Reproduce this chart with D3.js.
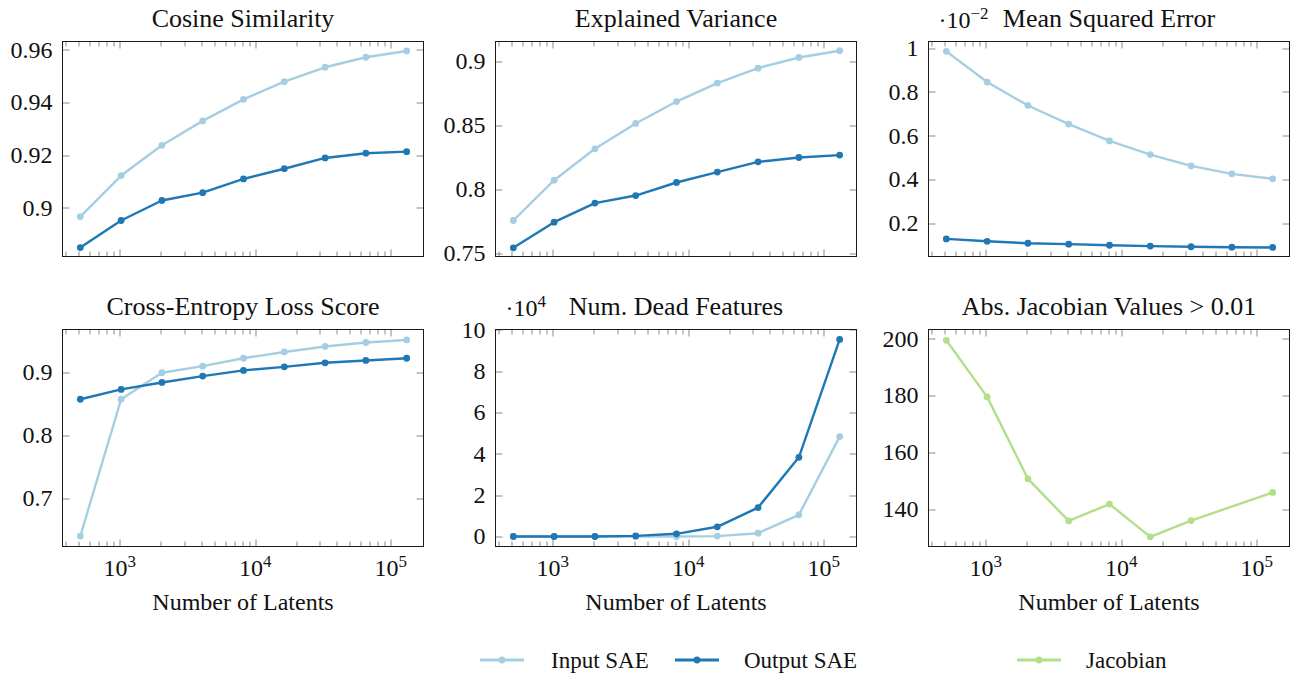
<!DOCTYPE html>
<html>
<head>
<meta charset="utf-8">
<script src="https://cdn.jsdelivr.net/npm/d3@7"></script>
<style>
  body { margin: 0; background: #fff; }
  svg { display: block; }
  text { font-family: "Liberation Serif", "Times New Roman", serif; fill: #111; }
</style>
</head>
<body>
<svg id="chart" width="1291" height="674"></svg>
<script>
// Dictionary sizes (number of latents) on the shared log x axis
const latents = [512, 1024, 2048, 4096, 8192, 16384, 32768, 65536, 131072];
const jacobianLatents = [512, 1024, 2048, 4096, 8192, 16384, 32768, 131072];

// Series values
const cosineInput    = [0.8966, 0.9122, 0.9237, 0.9330, 0.9412, 0.9479, 0.9534, 0.9572, 0.9596];
const cosineOutput   = [0.8848, 0.8951, 0.9027, 0.9057, 0.9109, 0.9148, 0.9189, 0.9207, 0.9213];
const varianceInput  = [0.7758, 0.8073, 0.8318, 0.8516, 0.8687, 0.8831, 0.8948, 0.9031, 0.9084];
const varianceOutput = [0.7545, 0.7745, 0.7894, 0.7953, 0.8055, 0.8136, 0.8216, 0.8250, 0.8269];
const mseInput       = [0.00985, 0.00845, 0.00738, 0.00653, 0.00576, 0.00514, 0.00462, 0.00426, 0.00403];
const mseOutput      = [0.00129, 0.00118, 0.00109, 0.00105, 0.00100, 0.00096, 0.00093, 0.00091, 0.00090];
const ceInput        = [0.640, 0.857, 0.899, 0.9095, 0.922, 0.932, 0.9407, 0.947, 0.951];
const ceOutput       = [0.857, 0.8726, 0.8836, 0.8937, 0.9027, 0.9084, 0.9148, 0.9185, 0.922];
const deadInput      = [0, 0, 0, 0, 0, 200, 1600, 10500, 48300];
const deadOutput     = [0, 0, 0, 300, 1300, 4700, 14000, 38300, 95300];
const jacobianValues = [199.4, 179.5, 150.7, 135.9, 141.8, 130.3, 136.0, 145.9];

// Tick values and their labels
const xTickValues = [1e3, 1e4, 1e5];
const xTickExponents = ["3", "4", "5"];
const cosineTicks = [0.9, 0.92, 0.94, 0.96];
const cosineTickLabels = ["0.9", "0.92", "0.94", "0.96"];
const varianceTicks = [0.75, 0.8, 0.85, 0.9];
const varianceTickLabels = ["0.75", "0.8", "0.85", "0.9"];
const mseTicks = [0.002, 0.004, 0.006, 0.008, 0.01];
const mseTickLabels = ["0.2", "0.4", "0.6", "0.8", "1"];
const ceTicks = [0.7, 0.8, 0.9];
const ceTickLabels = ["0.7", "0.8", "0.9"];
const deadTicks = [0, 20000, 40000, 60000, 80000, 100000];
const deadTickLabels = ["0", "2", "4", "6", "8", "10"];
const jacobianTicks = [140, 160, 180, 200];
const jacobianTickLabels = ["140", "160", "180", "200"];

const colors = { input: "#a6cee3", output: "#1f78b4", jacobian: "#b2df8a" };

const panels = [
  { title: "Cosine Similarity", col: 0, row: 0, yDomain: [0.8814, 0.9632],
    ticks: cosineTicks, labels: cosineTickLabels,
    series: [{ x: latents, y: cosineInput, color: colors.input }, { x: latents, y: cosineOutput, color: colors.output }] },
  { title: "Explained Variance", col: 1, row: 0, yDomain: [0.7477, 0.9156],
    ticks: varianceTicks, labels: varianceTickLabels,
    series: [{ x: latents, y: varianceInput, color: colors.input }, { x: latents, y: varianceOutput, color: colors.output }] },
  { title: "Mean Squared Error", col: 2, row: 0, yDomain: [0.000486, 0.0103], exponent: "\u22122",
    ticks: mseTicks, labels: mseTickLabels,
    series: [{ x: latents, y: mseInput, color: colors.input }, { x: latents, y: mseOutput, color: colors.output }] },
  { title: "Cross-Entropy Loss Score", col: 0, row: 1, yDomain: [0.6234, 0.9676],
    ticks: ceTicks, labels: ceTickLabels,
    series: [{ x: latents, y: ceInput, color: colors.input }, { x: latents, y: ceOutput, color: colors.output }] },
  { title: "Num. Dead Features", col: 1, row: 1, yDomain: [-4830, 100100], exponent: "4",
    ticks: deadTicks, labels: deadTickLabels,
    series: [{ x: latents, y: deadInput, color: colors.input }, { x: latents, y: deadOutput, color: colors.output }] },
  { title: "Abs. Jacobian Values > 0.01", col: 2, row: 1, yDomain: [126.9, 203.2],
    ticks: jacobianTicks, labels: jacobianTickLabels,
    series: [{ x: jacobianLatents, y: jacobianValues, color: colors.jacobian }] }
];

const colLeft = [62.5, 495.5, 928.5];
const panelWidth = 361;
const rowsGeom = [{ top: 41.5, height: 215 }, { top: 329.5, height: 217 }];

const svg = d3.select("#chart");

const x = d3.scaleLog().domain([Math.pow(10, 2.5777), Math.pow(10, 5.2417)]).range([0, panelWidth]);
const xMinor = [];
for (let k = 2; k <= 5; k++) {
  for (let m = 2; m <= 9; m++) {
    const v = m * Math.pow(10, k);
    if (v > x.domain()[0] && v < x.domain()[1]) xMinor.push(v);
  }
}

panels.forEach(p => {
  const left = colLeft[p.col];
  const { top, height } = rowsGeom[p.row];
  const y = d3.scaleLinear().domain(p.yDomain).range([height, 0]);
  const g = svg.append("g").attr("transform", `translate(${left},${top})`);

  // inward tick marks on all four sides
  const tickG = g.append("g").attr("stroke", "#8a8a8a").attr("stroke-width", 1);
  xMinor.forEach(v => {
    const px = Math.round(x(v)) + 0.5;
    tickG.append("line").attr("x1", px).attr("x2", px).attr("y1", height).attr("y2", height - 5);
    tickG.append("line").attr("x1", px).attr("x2", px).attr("y1", 0).attr("y2", 5);
  });
  xTickValues.forEach(v => {
    const px = Math.round(x(v)) + 0.5;
    tickG.append("line").attr("x1", px).attr("x2", px).attr("y1", height).attr("y2", height - 7);
    tickG.append("line").attr("x1", px).attr("x2", px).attr("y1", 0).attr("y2", 7);
  });
  p.ticks.forEach(v => {
    const py = Math.round(y(v)) + 0.5;
    tickG.append("line").attr("x1", 0).attr("x2", 7).attr("y1", py).attr("y2", py);
    tickG.append("line").attr("x1", panelWidth).attr("x2", panelWidth - 7).attr("y1", py).attr("y2", py);
  });

  // frame
  g.append("rect").attr("width", panelWidth).attr("height", height)
    .attr("fill", "none").attr("stroke", "#1a1a1a").attr("stroke-width", 1);

  // y tick labels
  p.ticks.forEach((v, i) => {
    g.append("text").attr("x", -10).attr("y", y(v)).attr("dy", "0.33em")
      .attr("text-anchor", "end").attr("font-size", 24).text(p.labels[i]);
  });

  // x tick labels only on the bottom row
  if (p.row === 1) {
    xTickValues.forEach((v, i) => {
      const t = g.append("text").attr("x", x(v)).attr("y", height + 29)
        .attr("text-anchor", "middle").attr("font-size", 24);
      t.append("tspan").text("10");
      t.append("tspan").attr("dy", -9).attr("font-size", 17).text(xTickExponents[i]);
    });
    g.append("text").attr("x", panelWidth / 2).attr("y", height + 63.5)
      .attr("text-anchor", "middle").attr("font-size", 24).text("Number of Latents");
  }

  // title
  g.append("text").attr("x", panelWidth / 2).attr("y", -15)
    .attr("text-anchor", "middle").attr("font-size", 26).text(p.title);

  // scale multiplier
  if (p.exponent) {
    const t = g.append("text").attr("x", 10).attr("y", -14).attr("font-size", 24);
    t.append("tspan").text("\u00b710");
    t.append("tspan").attr("dy", -9).attr("font-size", 17).text(p.exponent);
  }

  // series
  const line = d3.line().x(d => x(d[0])).y(d => y(d[1]));
  p.series.forEach(s => {
    const pts = s.x.map((xv, i) => [xv, s.y[i]]);
    g.append("path").datum(pts).attr("d", line)
      .attr("fill", "none").attr("stroke", s.color).attr("stroke-width", 2.4)
      .attr("stroke-linejoin", "round");
    g.selectAll(null).data(pts).enter().append("circle")
      .attr("cx", d => x(d[0])).attr("cy", d => y(d[1])).attr("r", 3.4)
      .attr("fill", s.color);
  });
});

// legend
const legendItems = [
  { label: "Input SAE", color: colors.input, x0: 480, textX: 551 },
  { label: "Output SAE", color: colors.output, x0: 675, textX: 744 },
  { label: "Jacobian", color: colors.jacobian, x0: 1017, textX: 1086 }
];
const legendY = 660;
legendItems.forEach(item => {
  svg.append("line").attr("x1", item.x0).attr("x2", item.x0 + 44)
    .attr("y1", legendY).attr("y2", legendY)
    .attr("stroke", item.color).attr("stroke-width", 3);
  svg.append("circle").attr("cx", item.x0 + 22).attr("cy", legendY).attr("r", 3.4).attr("fill", item.color);
  svg.append("text").attr("x", item.textX).attr("y", legendY + 8)
    .attr("font-size", 23).text(item.label);
});
</script>
</body>
</html>
